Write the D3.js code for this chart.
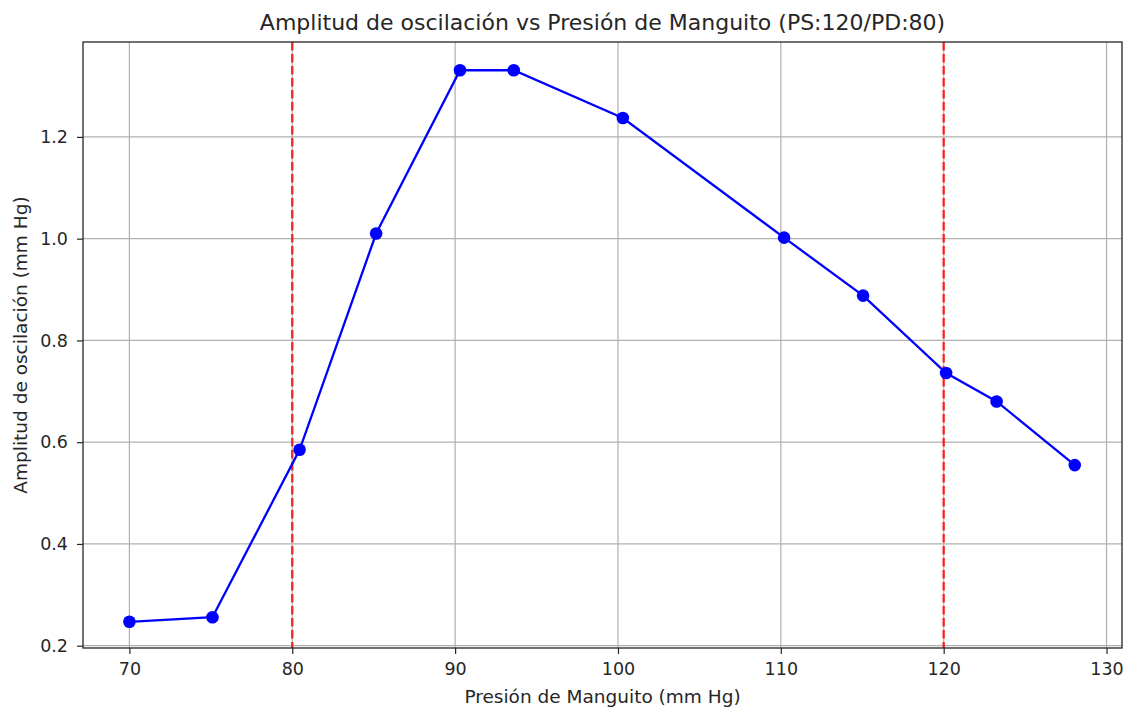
<!DOCTYPE html>
<html>
<head>
    <title>Amplitud vs Presión</title>
    <style>
        body { margin: 0; background: white; }
        svg text { font-family: "DejaVu Sans", sans-serif; fill: #262626; }
        .grid line { stroke: #b0b0b0; stroke-width: 1.2px; }
    </style>
</head>
<body>
    <svg width="1126" height="709"></svg>
    <script src="https://d3js.org/d3.v7.min.js"></script>
    <script>
        // values
        const presion = [70.0, 75.1, 80.45, 85.15, 90.3, 93.6, 100.3, 110.2, 115.05, 120.15, 123.25, 128.05];
        const amplitud = [0.247, 0.256, 0.585, 1.010, 1.331, 1.331, 1.237, 1.002, 0.888, 0.736, 0.680, 0.555];
        const xTicks = [70, 80, 90, 100, 110, 120, 130];
        const yTicks = [0.2, 0.4, 0.6, 0.8, 1.0, 1.2];
        const presionLines = [80, 120];

        const svg = d3.select("svg");
        const mLeft = 83, mRight = 1122, mTop = 42, mBottom = 648;

        const x = d3.scaleLinear().domain([67.15, 130.95]).range([mLeft, mRight]);
        const y = d3.scaleLinear().domain([0.1955, 1.3865]).range([mBottom, mTop]);

        // grid
        const grid = svg.append("g").attr("class", "grid");
        grid.selectAll(".gx").data(xTicks).enter().append("line")
            .attr("x1", d => x(d)).attr("x2", d => x(d))
            .attr("y1", mTop).attr("y2", mBottom);
        grid.selectAll(".gy").data(yTicks).enter().append("line")
            .attr("x1", mLeft).attr("x2", mRight)
            .attr("y1", d => y(d)).attr("y2", d => y(d));

        // red dashed markers at PD and PS
        svg.selectAll(".vline").data(presionLines).enter().append("line")
            .attr("x1", d => x(d)).attr("x2", d => x(d))
            .attr("y1", mTop).attr("y2", mBottom)
            .attr("stroke", "red").attr("stroke-opacity", 0.8)
            .attr("stroke-width", 2.4).attr("stroke-dasharray", "8.5,3.5");

        const pts = presion.map((p, i) => ({ p, a: amplitud[i] }));

        svg.append("path")
            .datum(pts)
            .attr("fill", "none")
            .attr("stroke", "blue")
            .attr("stroke-width", 2.3)
            .attr("d", d3.line().x(d => x(d.p)).y(d => y(d.a)));

        svg.selectAll(".pt").data(pts).enter().append("circle")
            .attr("cx", d => x(d.p)).attr("cy", d => y(d.a))
            .attr("r", 6.3).attr("fill", "blue");

        // axes
        const xAxis = svg.append("g").attr("transform", `translate(0,${mBottom})`)
            .call(d3.axisBottom(x).tickValues(xTicks).tickSize(6).tickPadding(9).tickSizeOuter(0));
        const yAxis = svg.append("g").attr("transform", `translate(${mLeft},0)`)
            .call(d3.axisLeft(y).tickValues(yTicks).tickFormat(d3.format(".1f")).tickSize(6).tickPadding(9).tickSizeOuter(0));
        [xAxis, yAxis].forEach(g => {
            g.select(".domain").remove();
            g.selectAll("line").attr("stroke", "#262626").attr("stroke-width", 1.2);
            g.selectAll("text").style("font-size", "17.5px").attr("fill", "#262626");
        });

        // frame
        svg.append("rect")
            .attr("x", mLeft).attr("y", mTop)
            .attr("width", mRight - mLeft).attr("height", mBottom - mTop)
            .attr("fill", "none").attr("stroke", "#262626").attr("stroke-width", 1.3);

        svg.append("text")
            .attr("x", (mLeft + mRight) / 2).attr("y", 30)
            .attr("text-anchor", "middle").style("font-size", "22px")
            .text("Amplitud de oscilación vs Presión de Manguito (PS:120/PD:80)");

        svg.append("text")
            .attr("x", (mLeft + mRight) / 2).attr("y", 703)
            .attr("text-anchor", "middle").style("font-size", "18.5px")
            .text("Presión de Manguito (mm Hg)");

        svg.append("text")
            .attr("transform", `translate(27,${(mTop + mBottom) / 2}) rotate(-90)`)
            .attr("text-anchor", "middle").style("font-size", "18.5px")
            .text("Amplitud de oscilación (mm Hg)");
    </script>
</body>
</html>
